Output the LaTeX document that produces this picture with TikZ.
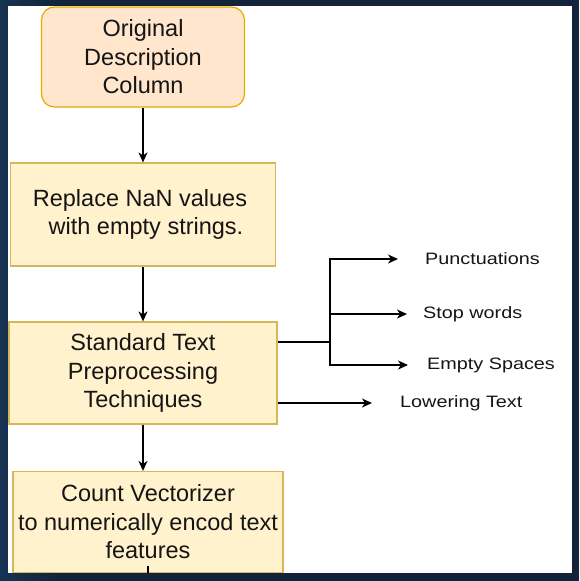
\documentclass[tikz,border=0pt]{standalone}
\usepackage{fontspec}
\setmainfont{Liberation Sans}
\newfontfamily\lblfont[FakeStretch=1.2]{Liberation Sans}
\usetikzlibrary{arrows.meta}
\definecolor{bgdark}{HTML}{12233A}
\definecolor{bgleft}{HTML}{173252}
\definecolor{boxfill}{HTML}{FFF2CC}
\definecolor{boxline}{HTML}{D6B656}
\definecolor{startfill}{HTML}{FFE6CC}
\definecolor{startline}{HTML}{E0AC00}
\definecolor{textc}{HTML}{151515}
\begin{document}
\begin{tikzpicture}[x=1pt,y=-1pt,
  box/.style={draw=boxline, fill=boxfill, line width=1.2pt, align=center,
    font=\fontsize{23.5}{28.5}\selectfont, inner sep=0pt, text=textc},
  startbox/.style={box, draw=startline, fill=startfill, rounded corners=13pt},
  arr/.style={-{Stealth[length=10pt,width=9pt,inset=3pt]}, line width=1.5pt},
  plain/.style={line width=1.5pt},
  lbl/.style={anchor=west, font=\lblfont\fontsize{16.5}{20}\selectfont, inner sep=0pt, text=textc}]
\useasboundingbox (0,0) rectangle (579,581);
\fill[bgdark] (0,0) rectangle (579,581);
\shade[left color=bgleft, right color=bgdark] (0,0) rectangle (60,581);
\fill[white] (8,6) rectangle (572,573);

\node[startbox, minimum width=203pt, minimum height=100pt] (b1) at (143,57) {Original\\Description\\Column};
\node[box, minimum width=265pt, minimum height=103pt] (b2) at (143,214.5) {Replace NaN values\kern6pt\\\kern6pt with empty strings.};
\node[box, minimum width=268pt, minimum height=102pt] (b3) at (143,373) {Standard Text\\Preprocessing\\Techniques};
\node[box, minimum width=270pt, minimum height=101pt] (b4) at (148,522) {Count Vectorizer\\to numerically encod text\\features};

\node[lbl] (pu) at (425,259) {Punctuations};
\node[lbl] (sw) at (423,314) {Stop words};
\node[lbl] (es) at (427,365) {Empty Spaces};
\node[lbl] (lt) at (400,403) {Lowering Text};

\coordinate (j) at (330,342);

\draw[arr] (b1.south) -- (b1.south |- b2.north);
\draw[arr] (b2.south -| b3.north) -- (b3.north);
\draw[arr] (b3.south) -- (b3.south |- b4.north);

\draw[plain] ([yshift=31pt]b3.east) -- (j);
\draw[arr] (j) |- ([xshift=-27pt]pu.west);
\draw[arr] (j) |- ([xshift=-16pt]sw.west);
\draw[arr] (j) |- ([xshift=-19pt]es.west);
\draw[arr] ([yshift=-30pt]b3.east) -- ([xshift=-28pt]lt.west);
\draw[plain] (b4.south) -- ++(0,-7);
\end{tikzpicture}
\end{document}
